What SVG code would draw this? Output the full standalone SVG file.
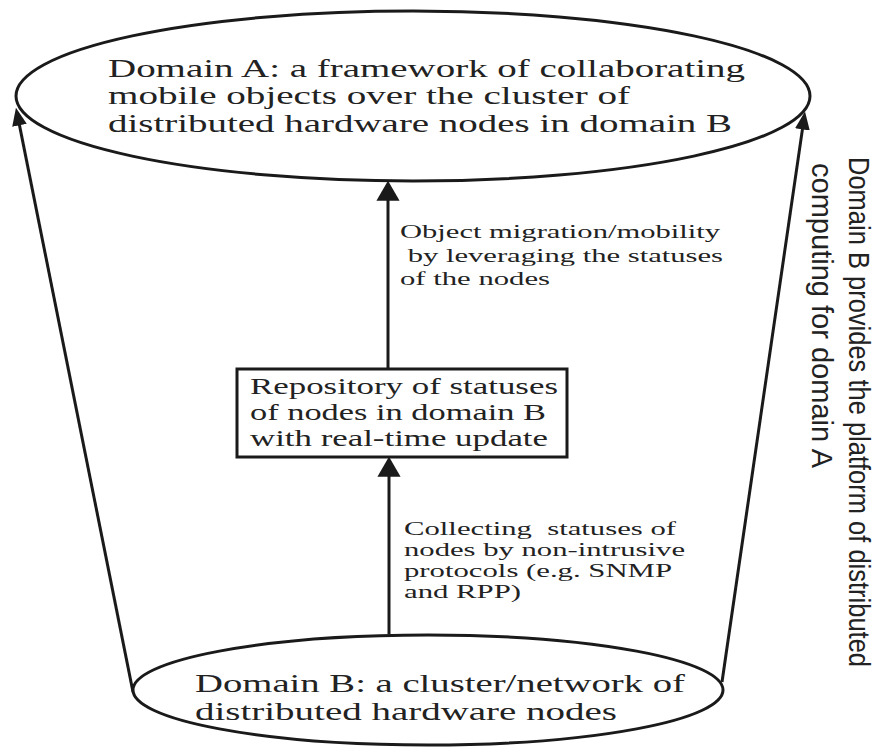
<svg xmlns="http://www.w3.org/2000/svg" width="876" height="747" viewBox="0 0 876 747">
<style>
.shape{fill:#fff;stroke:#1a1a1a;stroke-width:3}
.conn{fill:none;stroke:#1a1a1a;stroke-width:3}
.serif{font-family:"Liberation Serif","Times New Roman",serif;fill:#222}
.big{font-size:25px}
.box{font-size:23px}
.lab{font-size:18px}
.sans{font-family:"Liberation Sans",Arial,sans-serif;font-size:29px;fill:#222}
</style>
<defs>
<marker id="arrS" markerUnits="userSpaceOnUse" markerWidth="18" markerHeight="16" viewBox="0 0 17 14" refX="11" refY="7" orient="auto">
<path d="M0,0 L17,7 L0,14 Z" fill="#1a1a1a"/>
</marker>
<marker id="arrL" markerUnits="userSpaceOnUse" markerWidth="20" markerHeight="24" viewBox="0 0 19 22" refX="13" refY="11" orient="auto">
<path d="M0,0 L19,11 L0,22 Z" fill="#1a1a1a"/>
</marker>
</defs>
<rect width="876" height="747" fill="#fff"/>
<g id="connectors">
<line class="conn" x1="133" y1="692" x2="17.2" y2="113.9" marker-end="url(#arrS)"/>
<line class="conn" x1="722" y1="682" x2="804.1" y2="117.9" marker-end="url(#arrS)"/>
<line class="conn" x1="388" y1="369" x2="388" y2="187" marker-end="url(#arrL)"/>
<line class="conn" x1="389" y1="634" x2="389" y2="463" marker-end="url(#arrL)"/>
<g id="label-migration" class="serif lab">
<text x="400" y="238" textLength="320" lengthAdjust="spacingAndGlyphs">Object migration/mobility</text>
<text x="400" y="262" textLength="323" lengthAdjust="spacingAndGlyphs" xml:space="preserve"> by leveraging the statuses</text>
<text x="400" y="285" textLength="150" lengthAdjust="spacingAndGlyphs">of the nodes</text>
</g>
<g id="label-collecting" class="serif lab">
<text x="404" y="535" textLength="272" lengthAdjust="spacingAndGlyphs" xml:space="preserve">Collecting  statuses of</text>
<text x="404" y="556" textLength="281" lengthAdjust="spacingAndGlyphs">nodes by non-intrusive</text>
<text x="404" y="577" textLength="268" lengthAdjust="spacingAndGlyphs">protocols (e.g. SNMP</text>
<text x="404" y="598" textLength="117" lengthAdjust="spacingAndGlyphs">and RPP)</text>
</g>
<g id="label-platform" class="sans">
<text transform="translate(849,157) rotate(90)" x="0" y="0" textLength="510" lengthAdjust="spacingAndGlyphs">Domain B provides the platform of distributed</text>
<text transform="translate(812,163) rotate(90)" x="0" y="0" textLength="305" lengthAdjust="spacingAndGlyphs">computing for domain A</text>
</g>
</g>
<g id="domainA">
<ellipse class="shape" cx="413" cy="96" rx="397" ry="85"/>
<g class="serif big">
<text x="108" y="77" textLength="637" lengthAdjust="spacingAndGlyphs">Domain A: a framework of collaborating</text>
<text x="108" y="104" textLength="522" lengthAdjust="spacingAndGlyphs">mobile objects over the cluster of</text>
<text x="108" y="132" textLength="624" lengthAdjust="spacingAndGlyphs">distributed hardware nodes in domain B</text>
</g>
</g>
<g id="repository">
<rect class="shape" x="237" y="369" width="330" height="88"/>
<g class="serif box">
<text x="250" y="394" textLength="308" lengthAdjust="spacingAndGlyphs">Repository of statuses</text>
<text x="250" y="420" textLength="296" lengthAdjust="spacingAndGlyphs">of nodes in domain B</text>
<text x="250" y="446" textLength="298" lengthAdjust="spacingAndGlyphs">with real-time update</text>
</g>
</g>
<g id="domainB">
<ellipse class="shape" cx="428" cy="690" rx="295" ry="55"/>
<g class="serif big">
<text x="195" y="692" textLength="490" lengthAdjust="spacingAndGlyphs">Domain B: a cluster/network of</text>
<text x="195" y="720" textLength="422" lengthAdjust="spacingAndGlyphs">distributed hardware nodes</text>
</g>
</g>
</svg>
